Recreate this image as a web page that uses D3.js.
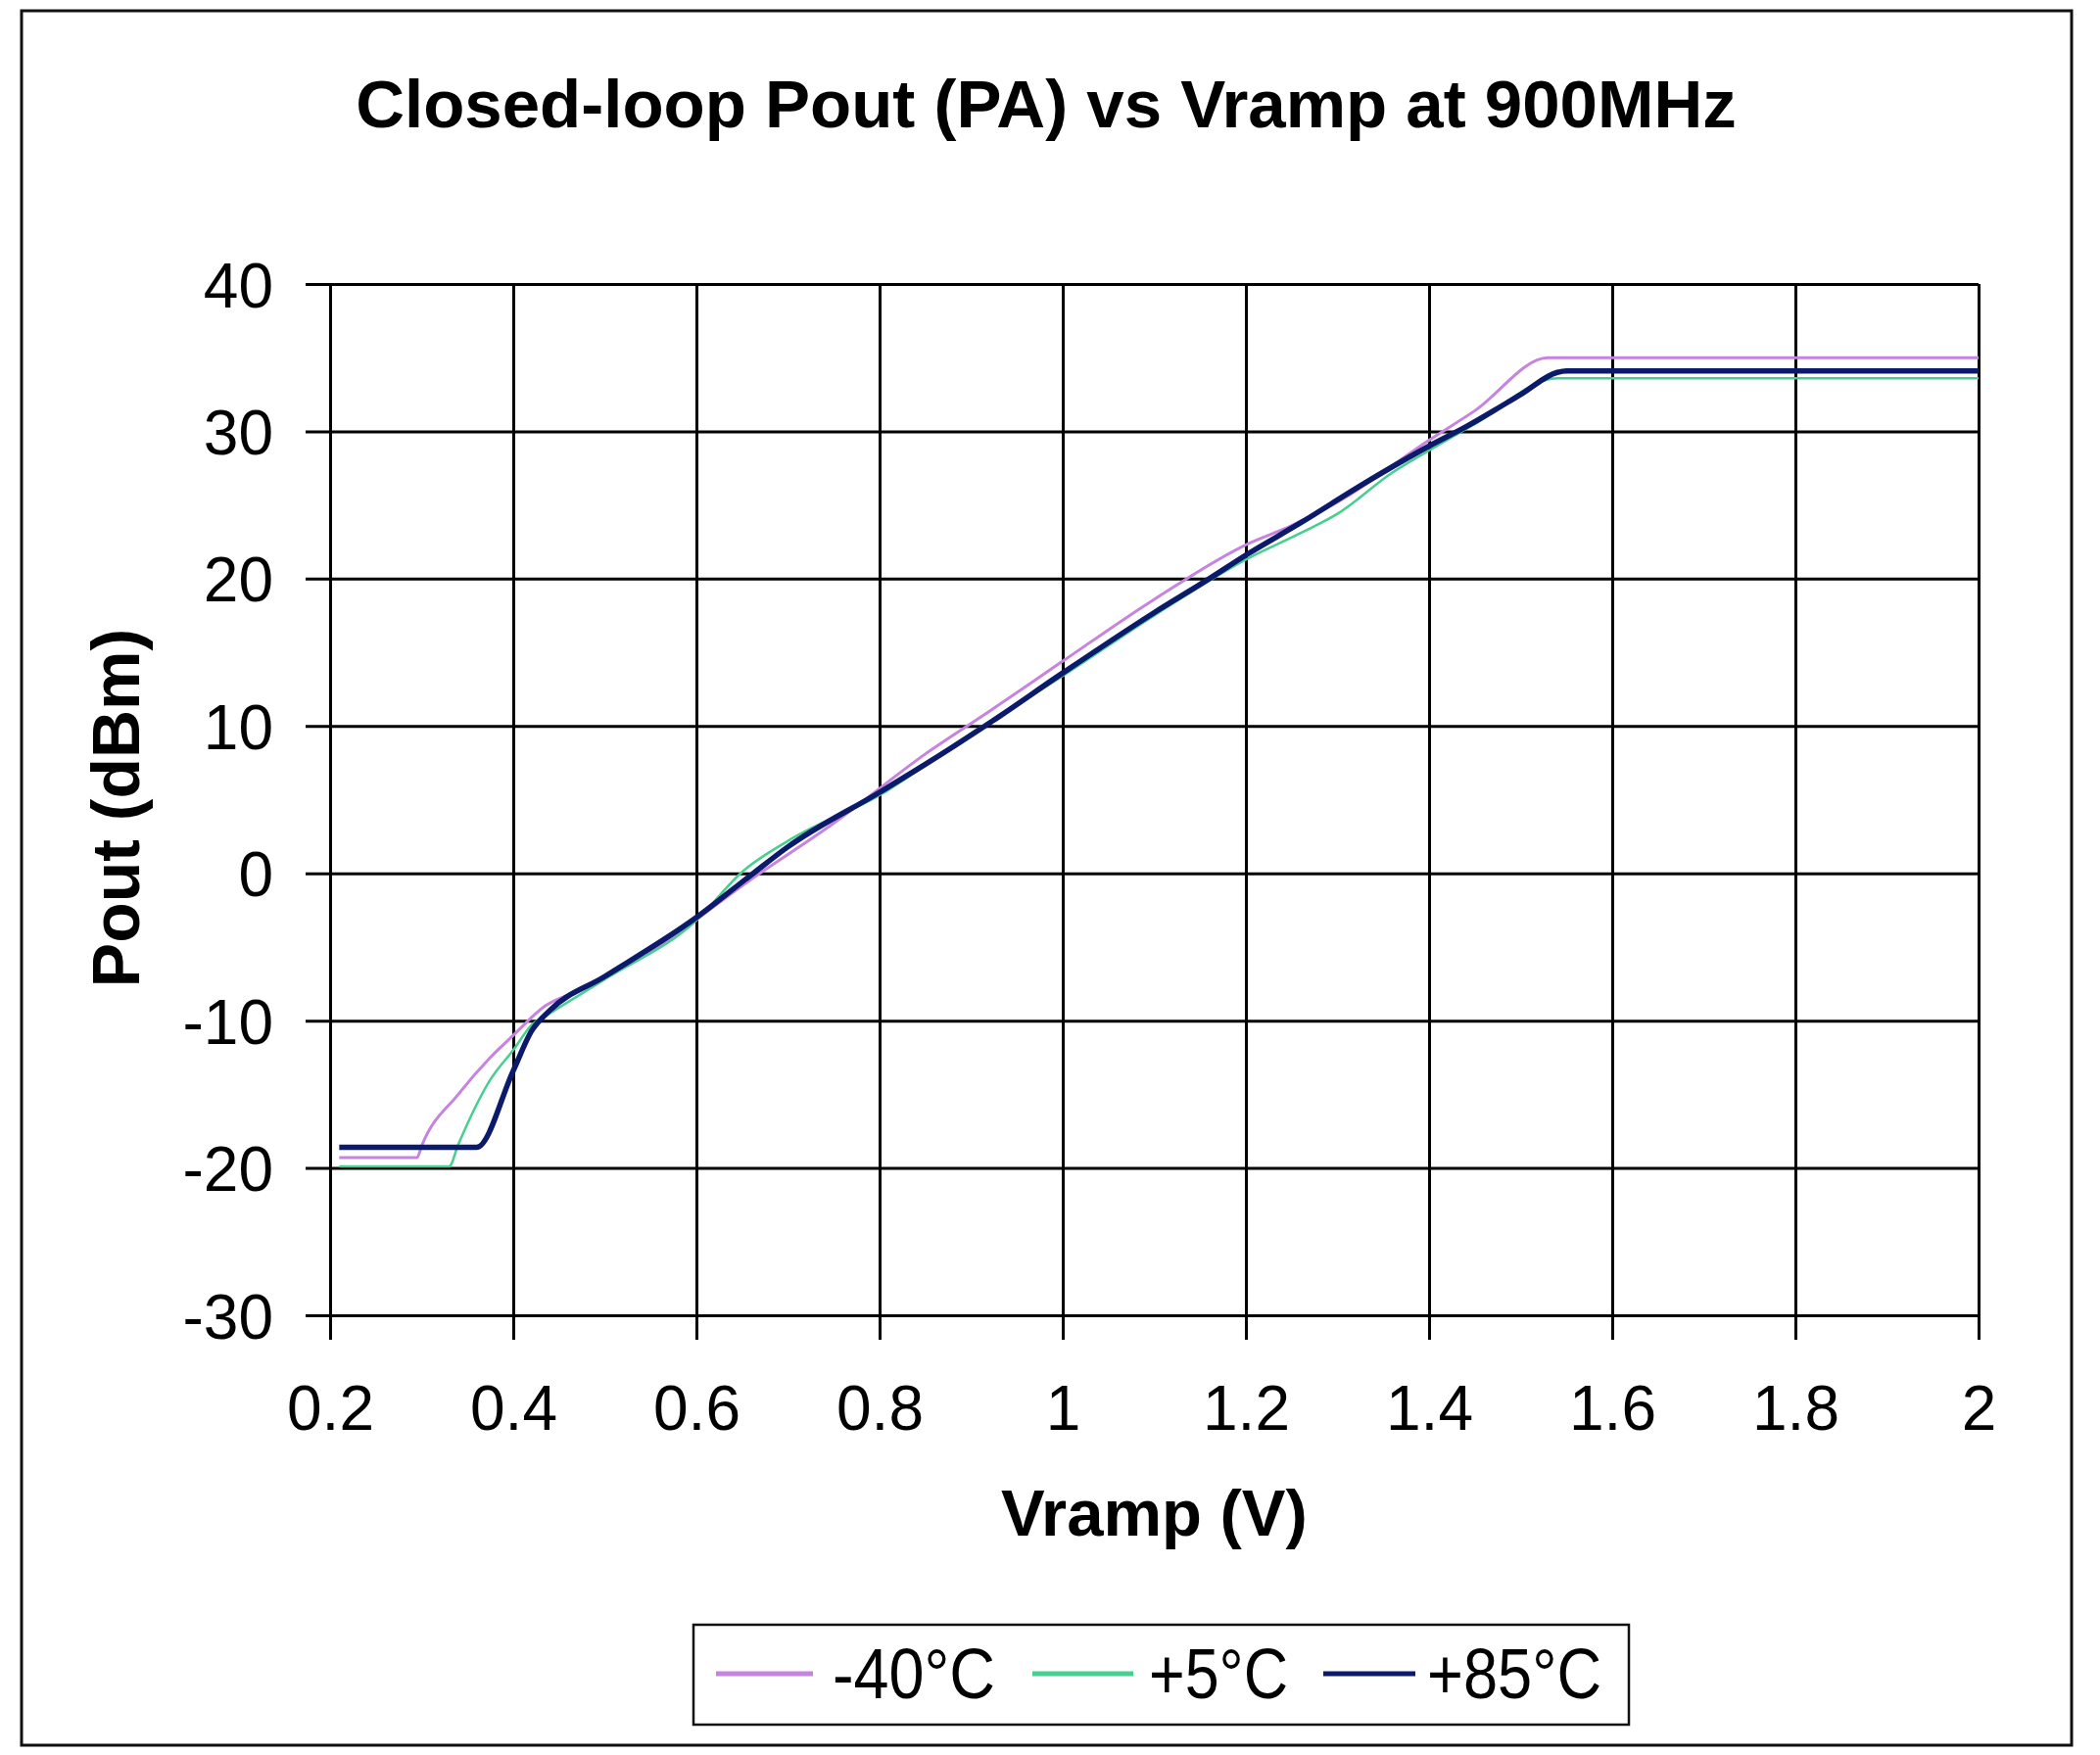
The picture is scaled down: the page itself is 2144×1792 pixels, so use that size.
<!DOCTYPE html>
<html>
<head>
<meta charset="utf-8">
<script src="https://cdn.jsdelivr.net/npm/d3@7"></script>
<style>
  body { margin: 0; background: #fff; }
  text { font-family: "Liberation Sans", Arial, sans-serif; fill: #000; }
</style>
</head>
<body>
<div id="chart"></div>
<script>
// 数据
var seriesNames = ["-40°C", "+5°C", "+85°C"];
var seriesColors = ["#c783e0", "#46cf8f", "#0c1a6c"];

var vrampM40 = [0.21, 0.295, 0.30, 0.34, 0.375, 0.40, 0.435, 0.47, 0.55, 0.66, 0.75, 0.85, 0.92, 1.00, 1.10, 1.20, 1.25, 1.30, 1.40, 1.45, 1.53, 2.00];
var poutM40  = [-19.3, -19.3, -18.5, -15.0, -12.5, -11.0, -9.0, -8.0, -5.3, -0.4, 3.4, 8.1, 11.0, 14.4, 18.6, 22.3, 23.6, 25.2, 29.4, 31.4, 35.0, 35.0];

var vramp5 = [0.21, 0.33, 0.34, 0.375, 0.40, 0.42, 0.44, 0.50, 0.60, 0.65, 0.70, 0.80, 0.90, 1.00, 1.10, 1.20, 1.26, 1.30, 1.36, 1.40, 1.45, 1.54, 2.00];
var pout5  = [-19.9, -19.9, -18.4, -14.0, -12.0, -10.3, -9.5, -7.2, -3.2, 0.1, 2.2, 5.3, 9.5, 13.4, 17.5, 21.3, 23.1, 24.4, 27.2, 28.7, 30.5, 33.6, 33.6];

var vramp85 = [0.21, 0.36, 0.40, 0.42, 0.44, 0.50, 0.60, 0.66, 0.70, 0.80, 0.85, 0.92, 1.00, 1.10, 1.16, 1.20, 1.26, 1.33, 1.40, 1.44, 1.50, 1.54, 1.55, 2.00];
var pout85  = [-18.6, -18.6, -13.4, -10.7, -9.3, -7.0, -3.0, -0.1, 1.8, 5.5, 7.4, 10.2, 13.6, 17.7, 20.0, 21.6, 23.8, 26.5, 29.0, 30.3, 32.5, 34.0, 34.1, 34.1];

var xTicks = [0.2, 0.4, 0.6, 0.8, 1.0, 1.2, 1.4, 1.6, 1.8, 2.0];
var xTickLabels = ["0.2", "0.4", "0.6", "0.8", "1", "1.2", "1.4", "1.6", "1.8", "2"];
var yTicks = [40, 30, 20, 10, 0, -10, -20, -30];
var yTickLabels = ["40", "30", "20", "10", "0", "-10", "-20", "-30"];

var title = "Closed-loop Pout (PA) vs Vramp at 900MHz";
var xTitle = "Vramp (V)";
var yTitle = "Pout (dBm)";

var width = 2144, height = 1792;
var plotLeft = 337, plotRight = 2020, plotTop = 290, plotBottom = 1343;
var tickOut = 25;

var svg = d3.select("#chart").append("svg")
    .attr("width", width)
    .attr("height", height);

svg.append("rect").attr("width", width).attr("height", height).attr("fill", "#fff");

// 外框
svg.append("rect")
    .attr("x", 22).attr("y", 11)
    .attr("width", 2093).attr("height", 1771)
    .attr("fill", "none").attr("stroke", "#111").attr("stroke-width", 3);

var x = d3.scaleLinear().domain([0.2, 2]).range([plotLeft, plotRight]);
var y = d3.scaleLinear().domain([-30, 40]).range([plotBottom, plotTop]);

// 网格 + 刻度
var gx = svg.append("g")
    .attr("transform", "translate(0," + plotTop + ")")
    .call(d3.axisBottom(x)
        .tickValues(xTicks)
        .tickSize(plotBottom - plotTop + tickOut)
        .tickFormat(function (d, i) { return xTickLabels[i]; }));
gx.select(".domain").remove();
gx.selectAll("line").attr("stroke", "#000").attr("stroke-width", 3);
gx.selectAll("text")
    .attr("y", 1460 - plotTop).attr("dy", null)
    .attr("font-size", 64).attr("fill", "#000")
    .style("font-family", "'Liberation Sans', Arial, sans-serif");

var gy = svg.append("g")
    .attr("transform", "translate(" + plotRight + ",0)")
    .call(d3.axisLeft(y)
        .tickValues(yTicks)
        .tickSize(plotRight - plotLeft + tickOut)
        .tickPadding(33)
        .tickFormat(function (d, i) { return yTickLabels[i]; }));
gy.select(".domain").remove();
gy.selectAll("line").attr("stroke", "#000").attr("stroke-width", 3);
gy.selectAll("text")
    .attr("dy", "0.36em")
    .attr("font-size", 64).attr("fill", "#000")
    .style("font-family", "'Liberation Sans', Arial, sans-serif");

// 曲线
var line = d3.line()
    .x(function (d) { return x(d[0]); })
    .y(function (d) { return y(d[1]); })
    .curve(d3.curveMonotoneX);

var seriesData = [
    d3.zip(vrampM40, poutM40),
    d3.zip(vramp5, pout5),
    d3.zip(vramp85, pout85)
];
var seriesWidths = [3, 2.5, 5.5];

svg.append("g").selectAll("path")
    .data(seriesData)
    .enter().append("path")
    .attr("d", line)
    .attr("fill", "none")
    .attr("stroke", function (d, i) { return seriesColors[i]; })
    .attr("stroke-width", function (d, i) { return seriesWidths[i]; })
    .attr("stroke-linejoin", "round");

// 标题
svg.append("text")
    .attr("x", 1068).attr("y", 130)
    .attr("text-anchor", "middle")
    .attr("font-size", 69).attr("font-weight", "bold")
    .text(title);

svg.append("text")
    .attr("x", (plotLeft + plotRight) / 2).attr("y", 1568)
    .attr("text-anchor", "middle")
    .attr("font-size", 67).attr("font-weight", "bold")
    .text(xTitle);

svg.append("text")
    .attr("transform", "translate(142,825) rotate(-90)")
    .attr("text-anchor", "middle")
    .attr("font-size", 68).attr("font-weight", "bold")
    .text(yTitle);

// 图例
svg.append("rect")
    .attr("x", 708).attr("y", 1659)
    .attr("width", 955).attr("height", 102)
    .attr("fill", "#fff").attr("stroke", "#111").attr("stroke-width", 2.5);

var legLineX = [731, 1054, 1351];
var legLineW = [99, 103, 94];
var legTextX = [850, 1173, 1457];
var legTextW = [166, 142, 178];

var leg = svg.append("g").selectAll("g")
    .data(seriesNames)
    .enter().append("g");

leg.append("line")
    .attr("x1", function (d, i) { return legLineX[i]; })
    .attr("x2", function (d, i) { return legLineX[i] + legLineW[i]; })
    .attr("y1", 1709).attr("y2", 1709)
    .attr("stroke", function (d, i) { return seriesColors[i]; })
    .attr("stroke-width", 5);

leg.append("text")
    .attr("x", function (d, i) { return legTextX[i]; })
    .attr("y", 1734)
    .attr("font-size", 72)
    .attr("textLength", function (d, i) { return legTextW[i]; })
    .attr("lengthAdjust", "spacingAndGlyphs")
    .text(function (d) { return d; });
</script>
</body>
</html>
